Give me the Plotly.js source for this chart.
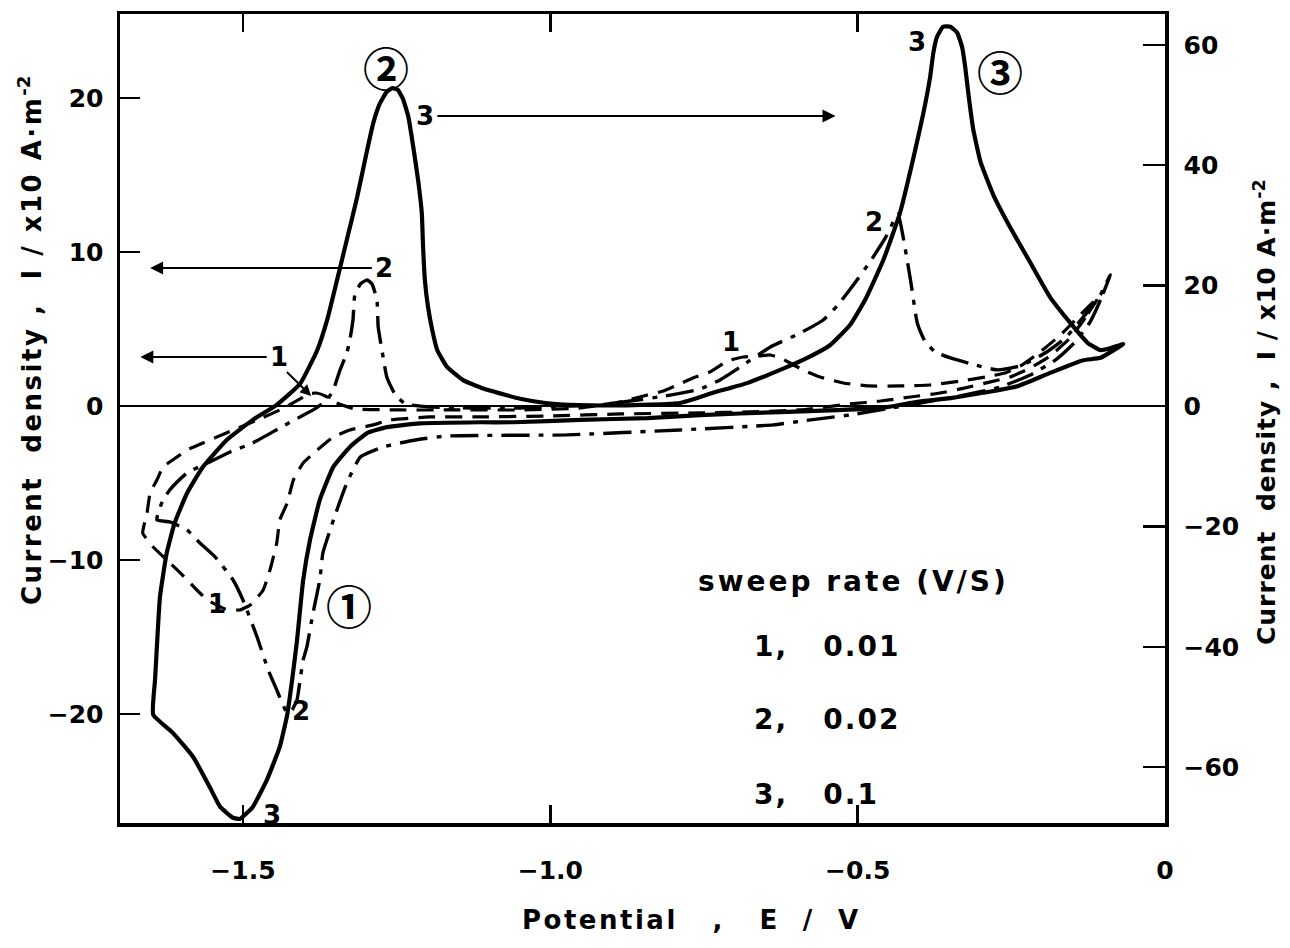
<!DOCTYPE html>
<html>
<head>
<meta charset="utf-8">
<script src="https://cdn.plot.ly/plotly-3.0.1.min.js"></script>
<style>html,body{margin:0;padding:0;background:#fff;}#chart{width:1290px;height:948px;}</style>
</head>
<body>
<div id="chart"></div>
<script>
// ---- Data (potential E / V, current density) ----
// Curve 1: sweep rate 0.01 V/s (left axis, x10 A·m^-2)
const c1_x = [-0.108,-0.130,-0.154,-0.187,-0.219,-0.252,-0.284,-0.325,-0.366,-0.414,-0.463,-0.512,-0.593,-0.675,-0.756,-0.886,-1.000,-1.114,-1.196,-1.261,-1.288,-1.326,-1.353,-1.379,-1.402,-1.418,-1.428,-1.440,-1.445,-1.456,-1.467,-1.488,-1.505,-1.529,-1.558,-1.575,-1.602,-1.624,-1.646,-1.663,-1.656,-1.651,-1.640,-1.630,-1.607,-1.591,-1.565,-1.542,-1.516,-1.480,-1.440,-1.410,-1.394,-1.381,-1.366,-1.347,-1.318,-1.244,-1.163,-1.049,-0.951,-0.886,-0.842,-0.816,-0.789,-0.768,-0.740,-0.712,-0.686,-0.659,-0.642,-0.626,-0.610,-0.589,-0.561,-0.523,-0.483,-0.431,-0.382,-0.333,-0.292,-0.260,-0.235,-0.203,-0.170,-0.138,-0.108];
const c1_y = [7.08,5.71,4.42,3.25,2.47,1.88,1.56,1.17,0.84,0.58,0.32,0.13,-0.26,-0.39,-0.45,-0.52,-0.65,-0.71,-0.71,-0.91,-1.23,-1.56,-2.01,-2.86,-3.70,-4.81,-6.30,-7.40,-8.90,-10.65,-11.95,-12.92,-13.25,-13.18,-12.60,-11.95,-10.84,-10.00,-9.16,-8.25,-6.95,-5.65,-4.81,-3.96,-3.31,-2.86,-2.40,-2.01,-1.56,-0.97,-0.26,0.39,0.78,0.84,0.65,0.19,-0.19,-0.26,-0.26,-0.26,-0.13,0.26,0.71,0.97,1.43,1.82,2.21,2.92,3.18,3.25,3.31,3.12,2.79,2.34,1.88,1.49,1.30,1.30,1.36,1.62,1.88,2.14,2.60,3.51,4.61,5.91,7.08];

// Curve 2: sweep rate 0.02 V/s (left axis)
const c2_x = [-0.089,-0.105,-0.122,-0.146,-0.178,-0.219,-0.268,-0.333,-0.398,-0.452,-0.512,-0.589,-0.637,-0.789,-0.973,-1.168,-1.220,-1.272,-1.309,-1.331,-1.350,-1.370,-1.375,-1.386,-1.396,-1.402,-1.407,-1.412,-1.420,-1.428,-1.445,-1.459,-1.477,-1.500,-1.516,-1.545,-1.570,-1.591,-1.619,-1.640,-1.638,-1.630,-1.619,-1.591,-1.554,-1.521,-1.484,-1.440,-1.407,-1.383,-1.363,-1.353,-1.342,-1.331,-1.326,-1.321,-1.318,-1.309,-1.298,-1.290,-1.282,-1.280,-1.272,-1.266,-1.252,-1.236,-1.196,-1.130,-1.049,-0.968,-0.919,-0.870,-0.813,-0.756,-0.724,-0.691,-0.642,-0.593,-0.556,-0.532,-0.507,-0.480,-0.455,-0.442,-0.434,-0.426,-0.414,-0.403,-0.390,-0.374,-0.349,-0.309,-0.273,-0.235,-0.195,-0.162,-0.130,-0.105,-0.089];
const c2_y = [8.51,6.88,5.45,4.16,2.99,2.01,1.23,0.65,0.19,-0.19,-0.58,-0.97,-1.23,-1.56,-1.88,-1.95,-2.21,-2.66,-3.31,-5.00,-7.08,-9.55,-11.30,-13.44,-15.65,-16.49,-17.79,-19.09,-19.74,-19.94,-18.44,-17.14,-15.00,-12.60,-11.30,-9.81,-8.90,-8.05,-7.53,-7.40,-6.95,-6.10,-5.45,-4.35,-3.64,-2.99,-2.40,-1.43,-0.71,-0.19,0.39,1.04,2.34,3.44,4.29,5.58,7.21,7.92,8.18,7.92,6.88,5.13,3.18,1.88,0.71,0.13,-0.06,-0.13,-0.13,0.00,0.06,0.32,0.65,1.10,1.69,2.53,3.83,4.74,5.58,6.56,7.86,9.35,10.91,11.95,12.47,10.97,8.18,5.39,4.16,3.51,3.12,2.66,2.34,2.60,3.44,4.42,5.91,7.21,8.51];

// Curve 3: sweep rate 0.1 V/s (right axis)
const c3_x = [-0.068,-0.105,-0.133,-0.187,-0.240,-0.296,-0.349,-0.403,-0.452,-0.533,-0.626,-0.756,-0.842,-0.951,-1.060,-1.114,-1.212,-1.266,-1.298,-1.326,-1.353,-1.375,-1.391,-1.402,-1.412,-1.420,-1.428,-1.440,-1.461,-1.484,-1.505,-1.516,-1.537,-1.554,-1.581,-1.614,-1.646,-1.643,-1.640,-1.635,-1.624,-1.611,-1.591,-1.565,-1.526,-1.484,-1.445,-1.407,-1.379,-1.363,-1.347,-1.331,-1.314,-1.298,-1.288,-1.277,-1.266,-1.257,-1.248,-1.240,-1.231,-1.223,-1.215,-1.209,-1.207,-1.204,-1.199,-1.192,-1.184,-1.168,-1.142,-1.109,-1.082,-1.049,-1.008,-0.968,-0.886,-0.789,-0.735,-0.680,-0.626,-0.582,-0.545,-0.512,-0.488,-0.458,-0.431,-0.410,-0.393,-0.382,-0.377,-0.371,-0.361,-0.349,-0.338,-0.330,-0.325,-0.320,-0.312,-0.300,-0.279,-0.252,-0.219,-0.187,-0.154,-0.126,-0.105,-0.089,-0.068];
const c3_y = [10.3,8.0,7.6,5.5,3.3,2.2,1.3,0.7,-0.2,-0.7,-1.0,-1.5,-2.0,-2.3,-2.7,-2.7,-2.9,-3.5,-4.5,-6.8,-10.1,-15.6,-22.3,-28.9,-38.9,-45.5,-51.3,-56.6,-62.1,-66.6,-68.6,-68.4,-66.6,-63.3,-58.3,-54.3,-51.3,-45.5,-40.0,-31.7,-24.4,-19.4,-14.5,-10.1,-5.6,-2.3,0.2,3.7,9.3,14.3,20.9,27.6,34.8,42.5,47.0,50.3,52.2,52.8,52.5,51.1,48.1,43.1,37.5,32.0,26.5,20.9,16.5,12.6,9.3,6.5,4.3,2.9,2.1,1.2,0.5,0.2,0.1,0.5,2.2,3.8,6.0,8.0,10.1,13.5,17.6,24.3,32.1,40.9,48.7,54.7,58.6,61.3,63.0,63.0,62.0,59.6,56.3,52.0,46.0,40.5,35.0,29.7,23.8,18.1,13.8,10.5,9.3,9.6,10.3];

// Ticks
const xTickVals = [-1.5, -1.0, -0.5, 0];
const xTickText = ['\u22121.5', '\u22121.0', '\u22120.5', '0'];
const yLeftTicks = [-20, -10, 0, 10, 20];
const yRightTicks = [-60, -40, -20, 0, 20, 40, 60];

// Legend text
const legendTitle = 'sweep rate (V/S)';
const legendRows = ['1,\u00a0\u00a0 0.01', '2,\u00a0\u00a0 0.02', '3,\u00a0\u00a0 0.1'];

const FONT = 'DejaVu Sans, Liberation Sans, sans-serif';
const CIRC = 'Noto Sans CJK JP, DejaVu Sans, sans-serif';

const traces = [
  {x: c1_x, y: c1_y, type: 'scatter', mode: 'lines', yaxis: 'y', name: '1',
   line: {color: '#000', width: 3.2, dash: '17px,10px', shape: 'spline', smoothing: 0.4}},
  {x: c2_x, y: c2_y, type: 'scatter', mode: 'lines', yaxis: 'y', name: '2',
   line: {color: '#000', width: 3.4, dash: '28px,9px,5px,9px', shape: 'spline', smoothing: 0.4}},
  {x: c3_x, y: c3_y, type: 'scatter', mode: 'lines', yaxis: 'y2', name: '3',
   line: {color: '#000', width: 4.2, shape: 'spline', smoothing: 0.4}}
];

function fnt(size, fam) { return {family: fam || FONT, size: size, color: '#000', weight: 'bold'}; }
function lbl(x, y, t, size, fam) {
  return {x: x, y: y, xref: 'x', yref: 'y', text: t, showarrow: false,
          font: fnt(size || 26, fam), xanchor: 'center', yanchor: 'middle'};
}
// text sits at the tail (ax, ay); the arrow head is at (x, y)
function labelArrow(t, xt, yt, xh, yh) {
  return {x: xh, y: yh, ax: xt, ay: yt, xref: 'x', yref: 'y', axref: 'x', ayref: 'y',
          text: t, font: fnt(26), showarrow: true, arrowhead: 2, arrowsize: 1.3,
          arrowwidth: 2, arrowcolor: '#000', standoff: 0, startstandoff: 2};
}
function spaced(t, px) { return '<span style="letter-spacing:' + px + 'px">' + t + '</span>'; }

const annotations = [
  lbl(-1.267, 22.08, '\u2461', 46, CIRC),
  lbl(-0.268, 21.82, '\u2462', 46, CIRC),
  lbl(-1.327, -12.86, '\u2460', 46, CIRC),
  labelArrow('3', -1.204, 18.83, -0.536, 18.83),
  labelArrow('2', -1.270, 8.96, -1.651, 8.96),
  labelArrow('1', -1.441, 3.18, -1.667, 3.18),
  {x: -1.389, y: 0.65, ax: -1.431, ay: 2.30, xref: 'x', yref: 'y', axref: 'x', ayref: 'y',
   text: '', showarrow: true, arrowhead: 2, arrowsize: 1.1, arrowwidth: 2, arrowcolor: '#000'},
  lbl(-1.453, -26.56, '3'),
  lbl(-1.405, -19.81, '2'),
  lbl(-1.542, -12.86, '1'),
  lbl(-0.473, 11.95, '2'),
  lbl(-0.403, 23.64, '3'),
  lbl(-0.706, 4.16, '1'),
  lbl(-0.507, -11.43, spaced(legendTitle, 3), 28),
  {x: -0.672, y: -15.65, xref: 'x', yref: 'y', text: spaced(legendRows[0], 2), showarrow: false, xanchor: 'left', yanchor: 'middle', font: fnt(28)},
  {x: -0.672, y: -20.39, xref: 'x', yref: 'y', text: spaced(legendRows[1], 2), showarrow: false, xanchor: 'left', yanchor: 'middle', font: fnt(28)},
  {x: -0.672, y: -25.26, xref: 'x', yref: 'y', text: spaced(legendRows[2], 2), showarrow: false, xanchor: 'left', yanchor: 'middle', font: fnt(28)},
  // axis titles
  {x: 0.547, y: -0.12, xref: 'paper', yref: 'paper', showarrow: false, xanchor: 'center', yanchor: 'middle',
   text: spaced('Potential\u00a0\u00a0 ,\u00a0\u00a0 E\u00a0 /\u00a0 V', 2.5), font: fnt(26)},
  {x: -0.0861, y: 0.597, xref: 'paper', yref: 'paper', showarrow: false, textangle: -90, xanchor: 'center', yanchor: 'middle',
   text: spaced('Current\u00a0 density ,\u00a0 I / x10 A\u00b7m', 2.5) + '<sup>-2</sup>', font: fnt(26)},
  {x: 1.0957, y: 0.508, xref: 'paper', yref: 'paper', showarrow: false, textangle: -90, xanchor: 'center', yanchor: 'middle',
   text: spaced('Current\u00a0 density ,\u00a0 I / x10 A\u00b7m', 1) + '<sup>-2</sup>', font: fnt(25)}
];

const layout = {
  width: 1290, height: 948,
  margin: {l: 120, r: 125, t: 14, b: 125, pad: 0},
  paper_bgcolor: '#fff', plot_bgcolor: '#fff',
  showlegend: false, hovermode: false,
  font: {family: FONT, color: '#000'},
  xaxis: {range: [-1.70, 0], tickvals: xTickVals, ticktext: xTickText,
    ticks: 'inside', ticklen: 18, tickwidth: 2.5, tickcolor: '#000',
    showline: true, linewidth: 3.5, linecolor: '#000', mirror: 'ticks',
    showgrid: false, zeroline: false, ticklabelstandoff: 22,
    tickfont: fnt(25)},
  yaxis: {range: [-27.08, 25.45], tickvals: yLeftTicks,
    ticks: 'inside', ticklen: 20, tickwidth: 2.5, tickcolor: '#000',
    showline: true, linewidth: 3.5, linecolor: '#000', mirror: true,
    showgrid: false, zeroline: true, zerolinewidth: 2, zerolinecolor: '#000',
    ticklabelstandoff: 8, tickfont: fnt(25)},
  yaxis2: {range: [-69.27, 65.12], tickvals: yRightTicks, overlaying: 'y', side: 'right',
    ticks: 'inside', ticklen: 22, tickwidth: 2.5, tickcolor: '#000',
    showline: true, linewidth: 3.5, linecolor: '#000',
    showgrid: false, zeroline: false, ticklabelstandoff: 10,
    tickfont: fnt(25)},
  annotations: annotations
};

Plotly.newPlot('chart', traces, layout, {staticPlot: true, displayModeBar: false});
</script>
</body>
</html>
